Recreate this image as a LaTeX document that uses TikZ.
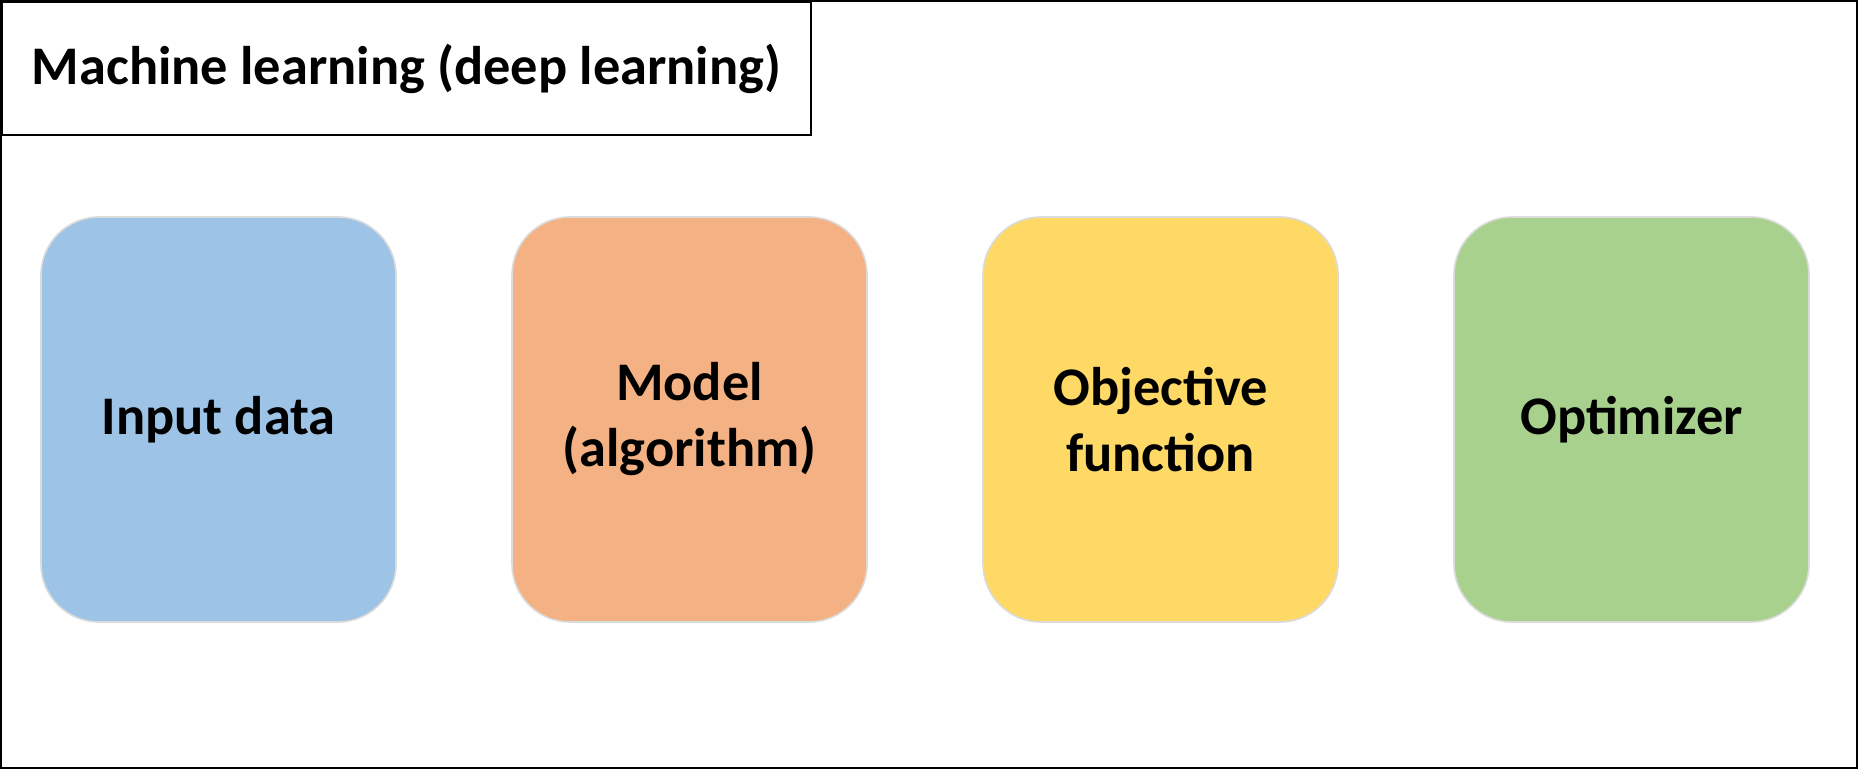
\documentclass[tikz,border=0pt]{standalone}
\usepackage{fontspec}
\setmainfont{Carlito}
\usetikzlibrary{positioning}
\definecolor{datablue}{HTML}{9DC3E6}
\definecolor{modelorange}{HTML}{F4B183}
\definecolor{objyellow}{HTML}{FFD966}
\definecolor{optgreen}{HTML}{A9D18E}

\begin{document}
\begin{tikzpicture}[x=0.25pt,y=-0.25pt,node distance=28.6pt,
                    block/.style={draw=black!14,line width=0.4pt,rounded corners=14.5pt,
                      minimum width=88.75pt,minimum height=101.25pt,inner sep=0pt,
                      align=center,font=\fontsize{13.6}{16.5}\selectfont\bfseries}]

        \useasboundingbox (0,0) rectangle (1858,769);
        \draw[line width=0.5pt] (1,1) rectangle (1857,768);

        \node[draw,line width=0.5pt,anchor=north west,inner sep=0pt,
              minimum width=202.25pt,minimum height=33.25pt,
              font=\fontsize{13.6}{16}\selectfont\bfseries] (title) at (1,1)
              {Machine learning (deep learning)};

        \node[block,fill=datablue] (input) at (218.5,419.5) {Input data};
        \node[block,fill=modelorange] (model) [right=of input] {Model\\(algorithm)};
        \node[block,fill=objyellow] (objective) [right=of model] {Objective\\function};
        \node[block,fill=optgreen] (optimizer) [right=of objective] {Optimizer};

\end{tikzpicture}
\end{document}
